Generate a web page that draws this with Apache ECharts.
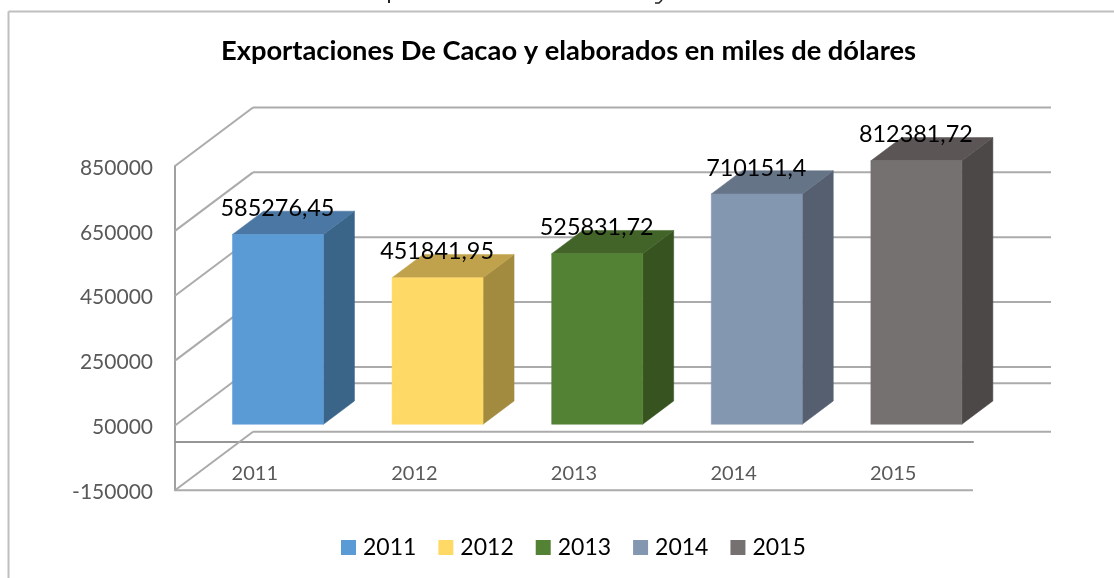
<!DOCTYPE html>
<html>
<head>
<meta charset="utf-8">
<style>html,body{margin:0;padding:0;background:#fff}#c{width:1114px;height:578px}</style>
<script src="https://cdn.jsdelivr.net/npm/echarts@6/dist/echarts.min.js"></script>
</head>
<body>
<div id="c"></div>
<script>
const titleText = 'Exportaciones De Cacao y elaborados en miles de dólares';
const categories = ['2011', '2012', '2013', '2014', '2015'];
const values = [585276.45, 451841.95, 525831.72, 710151.4, 812381.72];
const yTicks = [-150000, 50000, 250000, 450000, 650000, 850000];
const frontColors = ['#5B9BD5', '#FFD966', '#548235', '#8497B0', '#767171'];
const sideColors = ['#3A6488', '#A28A3F', '#375420', '#555F70', '#4C4848'];
const topColors = ['#4A77A3', '#C1A24C', '#426429', '#667488', '#5B5655'];

const FONT = 'Lato, Carlito, Calibri, sans-serif';
const GRID_LINE = '#ABABAB';
const DEPTH_X = 78, DEPTH_Y = 58.5;
const BAR_DEPTH_START = 0.297, BAR_W = 91, BAR_SIDE_X = 31, BAR_SIDE_Y = 23.3;

const line = (x1, y1, x2, y2, color) => ({
  type: 'line', shape: {x1, y1, x2, y2}, style: {stroke: color || GRID_LINE, lineWidth: 2}
});

function renderWall(params, api) {
  const cs = params.coordSys;
  const v = api.value(1);
  const y = api.coord([0, v])[1];
  const children = [];
  if (v !== 0) children.push(line(cs.x, y, cs.x + DEPTH_X, y - DEPTH_Y));
  children.push(line(cs.x + DEPTH_X, y - DEPTH_Y, cs.x + cs.width + DEPTH_X, y - DEPTH_Y));
  if (v === yTicks[0]) children.push(line(cs.x, y, cs.x + cs.width, y));
  return {type: 'group', children};
}

function barRenderer(i) {
  return function (params, api) {
    const base = api.coord([api.value(0), 0]);
    const top = api.coord([api.value(0), api.value(1)]);
    const x0 = base[0] + BAR_DEPTH_START * DEPTH_X - BAR_W / 2;
    const x1 = x0 + BAR_W;
    const yb = base[1] - BAR_DEPTH_START * DEPTH_Y;
    const yt = top[1] - BAR_DEPTH_START * DEPTH_Y;
    const dx = BAR_SIDE_X, dy = BAR_SIDE_Y;
    return {
      type: 'group',
      children: [
        {type: 'polygon', shape: {points: [[x1, yt], [x1 + dx, yt - dy], [x1 + dx, yb - dy], [x1, yb]]},
         style: {fill: sideColors[i], stroke: sideColors[i], lineWidth: 0.5}},
        {type: 'polygon', shape: {points: [[x0, yt], [x0 + dx, yt - dy], [x1 + dx, yt - dy], [x1, yt]]},
         style: {fill: topColors[i], stroke: topColors[i], lineWidth: 0.5}},
        {type: 'rect', shape: {x: x0, y: yt, width: BAR_W, height: yb - yt},
         style: {fill: frontColors[i], stroke: frontColors[i], lineWidth: 0.5}},
        {type: 'text', z2: 50,
         style: {x: (x0 + x1) / 2 - 0.5, y: yt - 26, text: String(api.value(1)).replace('.', ','),
                 fill: '#000', font: '23.4px ' + FONT, align: 'center', verticalAlign: 'middle'}}
      ]
    };
  };
}

const barSeries = categories.map((name, i) => ({
  type: 'custom', name, z: 5 + i, clip: false, silent: true,
  coordinateSystem: 'cartesian2d',
  itemStyle: {color: frontColors[i]},
  encode: {x: 0, y: 1},
  data: [[i, values[i]]],
  renderItem: barRenderer(i)
}));

const option = {
  animation: false,
  backgroundColor: '#fff',
  title: {
    text: titleText, left: 568.5, top: 38, textAlign: 'center', padding: 0,
    textStyle: {fontFamily: FONT, fontWeight: 'bold', fontSize: 27.3, color: '#000'}
  },
  grid: {left: 175, right: 141, top: 166, bottom: 87.7, containLabel: false},
  legend: {
    left: 341, top: 536, padding: 0, itemWidth: 15, itemHeight: 15, itemGap: 22,
    icon: 'rect', data: categories,
    textStyle: {fontFamily: FONT, fontSize: 23, color: '#000', padding: [0, 0, 0, 2]}
  },
  xAxis: {
    type: 'category', data: categories,
    axisLine: {show: true, onZero: true, lineStyle: {color: '#969696', width: 2}},
    axisTick: {show: false},
    axisLabel: {margin: -27, fontFamily: FONT, fontSize: 20, color: '#595959'}
  },
  yAxis: {
    type: 'value', min: yTicks[0], max: yTicks[yTicks.length - 1],
    axisLine: {show: true, lineStyle: {color: '#A0A0A0', width: 2}},
    axisTick: {show: false, customValues: yTicks},
    splitLine: {show: false},
    axisLabel: {margin: 22, customValues: yTicks, formatter: v => '{a|' + v + '}',
                rich: {a: {padding: [4, 0, 0, 0], fontFamily: FONT, fontSize: 21, color: '#595959'}},
                fontFamily: FONT, fontSize: 21, color: '#595959'}
  },
  series: [
    {
      type: 'custom', name: 'walls', z: 1, clip: false, silent: true,
      coordinateSystem: 'cartesian2d', encode: {x: 0, y: 1},
      data: yTicks.concat([0]).map(v => [0, v]),
      renderItem: renderWall
    }
  ].concat(barSeries),
  graphic: [
    {type: 'line', silent: true, shape: {x1: 8.5, y1: 578, x2: 8.5, y2: 11.5}, style: {stroke: '#BFBFBF', lineWidth: 2}},
    {type: 'line', silent: true, shape: {x1: 8.5, y1: 11.5, x2: 1114, y2: 11.5}, style: {stroke: '#BFBFBF', lineWidth: 2}},
    {type: 'line', silent: true, shape: {x1: 389, y1: 0, x2: 389, y2: 3}, style: {stroke: '#222', lineWidth: 2}},
    {type: 'polyline', silent: true, shape: {points: [[662, 0], [659, 3], [655, 3]]}, style: {stroke: '#222', lineWidth: 1.5, fill: 'none'}}
  ]
};
echarts.init(document.getElementById('c'), null, {renderer: 'canvas'}).setOption(option);
</script>
</body>
</html>
